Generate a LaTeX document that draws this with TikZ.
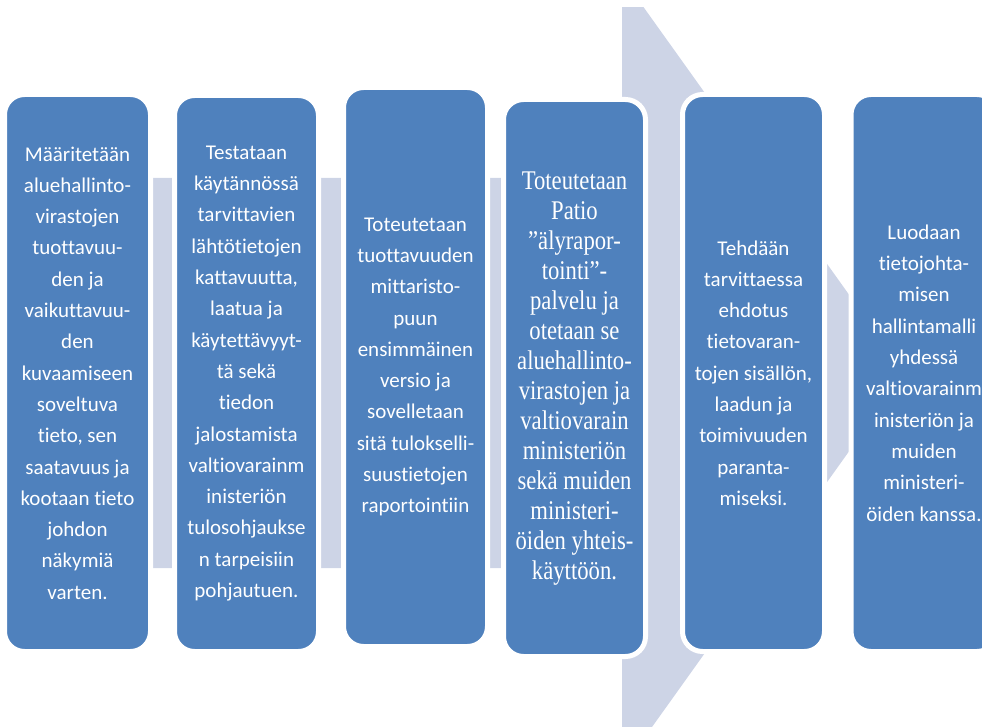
\documentclass[tikz,border=0pt]{standalone}
\usepackage{fontspec}
\usepackage{graphicx}
\setmainfont{Carlito}[Ligatures=NoCommon]
\newfontfamily\camserif{Liberation Serif}
\definecolor{boxblue}{HTML}{4F81BD}
\definecolor{arrowgray}{HTML}{CDD4E6}
\begin{document}
\begin{tikzpicture}[x=1pt,y=-1pt,
  stage/.style={draw=white, line width=5pt, fill=boxblue, rounded corners=20pt,
    inner sep=0pt, outer sep=0pt, text=white, align=center,
    font=\fontsize{21}{31.3}\selectfont},
]
\clip (0,0) rectangle (982,727);
% background process arrow
\begin{scope}
\clip (0,8) rectangle (982,727);
\fill[arrowgray] (10,178) -- (622,178) -- (622,-23) -- (905,373) -- (622,769)
  -- (622,568) -- (10,568) -- cycle;
\end{scope}
% stages
\node[stage, minimum width=146pt, minimum height=557pt] (b1) at (77.5,373)
  {Määritetään\\aluehallinto-\\virastojen\\tuottavuu-\\den ja\\vaikuttavuu-\\den\\kuvaamiseen\\soveltuva\\tieto, sen\\saatavuus ja\\kootaan tieto\\johdon\\näkymiä\\varten.};
\node[stage, minimum width=144pt, minimum height=556pt] (b2) at (246.5,373.5)
  {Testataan\\käytännössä\\tarvittavien\\lähtötietojen\\kattavuutta,\\laatua ja\\käytettävyyt-\\tä sekä\\tiedon\\jalostamista\\valtiovarainm\\inisteriön\\tulosohjaukse\\n tarpeisiin\\pohjautuen.};
\node[stage, minimum width=144pt, minimum height=559pt] (b3) at (415.5,367)
  {Toteutetaan\\tuottavuuden\\mittaristo-\\puun\\ensimmäinen\\versio ja\\sovelletaan\\sitä tulokselli-\\suustietojen\\raportointiin};
\node[stage, minimum width=142pt, minimum height=557pt] (b4) at (574.5,378)
  {\camserif\fontsize{27}{30}\selectfont\scalebox{0.84}[1]{\begin{tabular}{@{}c@{}}Toteutetaan\\Patio\\”älyrapor-\\tointi”-\\palvelu ja\\otetaan se\\aluehallinto-\\virastojen ja\\valtiovarain\\ministeriön\\sekä muiden\\ministeri-\\öiden yhteis-\\käyttöön.\end{tabular}}};
\node[stage, minimum width=142pt, minimum height=557pt] (b5) at (753.5,373)
  {Tehdään\\tarvittaessa\\ehdotus\\tietovaran-\\tojen sisällön,\\laadun ja\\toimivuuden\\paranta-\\miseksi.};
\node[stage, minimum width=146pt, minimum height=557pt] (b6) at (924,373)
  {Luodaan\\tietojohta-\\misen\\hallintamalli\\yhdessä\\valtiovarainm\\inisteriön ja\\muiden\\ministeri-\\öiden kanssa.};
\end{tikzpicture}
\end{document}
